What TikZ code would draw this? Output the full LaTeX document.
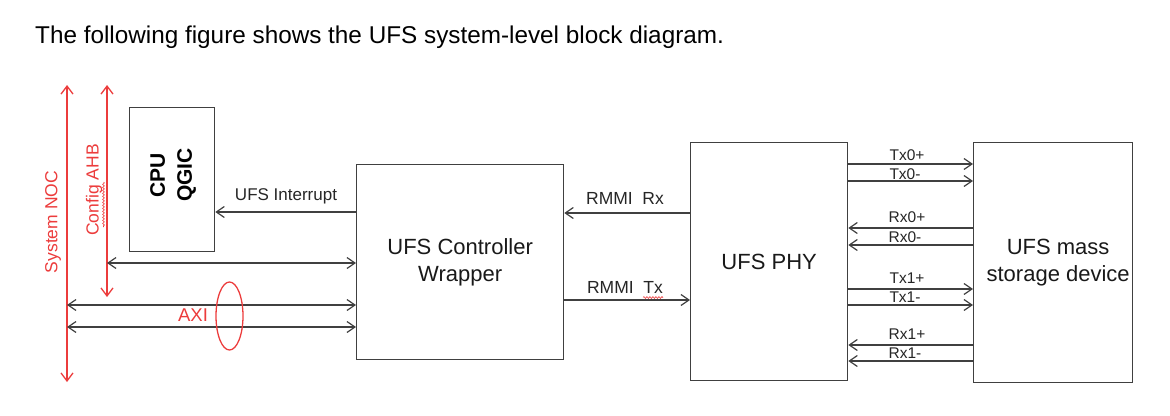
\documentclass[tikz,border=0pt]{standalone}
\usepackage{fontspec}
\setmainfont{Liberation Sans}
\usetikzlibrary{arrows.meta,decorations.pathmorphing,shapes.geometric}
\definecolor{ln}{RGB}{64,64,64}
\definecolor{rd}{RGB}{236,60,60}
\newcommand{\fs}[1]{\fontsize{#1}{#1}\selectfont}
\begin{document}
\begin{tikzpicture}[x=1pt,y=-1pt,
  blk/.style={draw=ln, line width=1.3pt, inner sep=0pt, anchor=north west},
  blktext/.style={align=center, font=\fs{22}\linespread{1.2}\selectfont, text=black!90},
  conn/.style={draw=ln, line width=1.2pt, -{Straight Barb[length=8pt,width=11pt,line width=1.2pt]}},
  biconn/.style={draw=ln, line width=1.2pt, {Straight Barb[length=8pt,width=11pt,line width=1.2pt]}-{Straight Barb[length=8pt,width=11pt,line width=1.2pt]}},
  redarr/.style={draw=rd, line width=1.3pt, {Straight Barb[length=8pt,width=12pt,line width=1.3pt]}-{Straight Barb[length=8pt,width=12pt,line width=1.3pt]}},
  lbl/.style={font=\fs{17}, text=black!85, inner sep=0pt},
  sig/.style={font=\fs{15.5}, text=black!85, inner sep=0pt},
  redlbl/.style={font=\fs{17.5}, text=rd, inner sep=0pt},
  squig/.style={draw=rd, line width=0.6pt, decorate, decoration={snake, segment length=3pt, amplitude=0.9pt}}
]
\useasboundingbox (0,0) rectangle (1170,415);

% title
\node[anchor=west, font=\fs{24.3}, inner sep=0pt] (title) at (35,37) {The following figure shows the UFS system-level block diagram.};

% blocks
\node[blk, minimum width=85pt, minimum height=144pt] (cpu) at (129,107) {};
\node[font=\bfseries\fs{21}, rotate=90, align=center, inner sep=0pt] (cputxt) at (173,175) {CPU\\[6pt]QGIC};
\node[blk, minimum width=207pt, minimum height=195pt] (ctrl) at (356,164) {};
\node[blktext] (ctrltxt) at (ctrl.center) {UFS Controller\\Wrapper};
\node[blk, minimum width=157pt, minimum height=238pt] (phy) at (690,142) {};
\node[blktext] (phytxt) at (phy.center) {UFS PHY};
\node[blk, minimum width=159pt, minimum height=240pt] (dev) at (973,142) {};
\node[blktext] (devtxt) at ([xshift=5pt]dev.center) {UFS mass\\storage device};

% red buses
\coordinate (noctop) at (67,85);
\coordinate (nocbot) at (67,382);
\coordinate (ahbtop) at (107,85);
\coordinate (ahbbot) at (107,297);
\draw[redarr] (noctop) -- (nocbot);
\draw[redarr] (ahbtop) -- (ahbbot);
\node[redlbl, rotate=90] (noclbl) at (53,222) {System NOC};
\node[redlbl, rotate=90] (ahblbl) at (94,190) {Config AHB};
\draw[squig] (103.5,182) -- (103.5,227);

% left connectors
\coordinate (irq) at (0,212);
\draw[conn] (ctrl.west |- irq) -- (cpu.east |- irq);
\node[lbl] (irqlbl) at (286,196) {UFS Interrupt};
\coordinate (ahbh) at (107,263);
\draw[biconn] (ahbh) -- (ahbh -| ctrl.west);
\coordinate (axia) at (67,305);
\coordinate (axib) at (67,327);
\draw[biconn] (axia) -- (axia -| ctrl.west);
\draw[biconn] (axib) -- (axib -| ctrl.west);
\node[font=\fs{18.5}, text=rd, inner sep=0pt] (axilbl) at (193,315) {AXI};
\node[draw=rd, line width=1.3pt, ellipse, minimum width=27pt, minimum height=68pt, inner sep=0pt] (axiell) at (229.5,316) {};

% RMMI
\coordinate (rx) at (0,213);
\coordinate (tx) at (0,300);
\draw[conn] (phy.west |- rx) -- (ctrl.east |- rx);
\draw[conn] (ctrl.east |- tx) -- (phy.west |- tx);
\node[lbl, font=\fs{17.5}] (rxlbl) at (625,198) {RMMI\ \ Rx};
\node[lbl, font=\fs{17.5}] (txlbl) at (625,287) {RMMI\ \ Tx};
\draw[squig] (643,297.5) -- (663,297.5);

% differential lanes
\coordinate (t0p) at (0,164);
\coordinate (t0m) at (0,181);
\coordinate (r0p) at (0,228);
\coordinate (r0m) at (0,245);
\coordinate (t1p) at (0,289);
\coordinate (t1m) at (0,305);
\coordinate (r1p) at (0,345);
\coordinate (r1m) at (0,361);
\draw[conn] (phy.east |- t0p) -- (dev.west |- t0p);
\draw[conn] (phy.east |- t0m) -- (dev.west |- t0m);
\draw[conn] (dev.west |- r0p) -- (phy.east |- r0p);
\draw[conn] (dev.west |- r0m) -- (phy.east |- r0m);
\draw[conn] (phy.east |- t1p) -- (dev.west |- t1p);
\draw[conn] (phy.east |- t1m) -- (dev.west |- t1m);
\draw[conn] (dev.west |- r1p) -- (phy.east |- r1p);
\draw[conn] (dev.west |- r1m) -- (phy.east |- r1m);
\node[sig] (t0plbl) at (907,155) {Tx0+};
\node[sig] (t0mlbl) at (905,174) {Tx0-};
\node[sig] (r0plbl) at (907,217) {Rx0+};
\node[sig] (r0mlbl) at (905,237) {Rx0-};
\node[sig] (t1plbl) at (907,278) {Tx1+};
\node[sig] (t1mlbl) at (905,297) {Tx1-};
\node[sig] (r1plbl) at (907,334) {Rx1+};
\node[sig] (r1mlbl) at (905,353) {Rx1-};
\end{tikzpicture}
\end{document}
